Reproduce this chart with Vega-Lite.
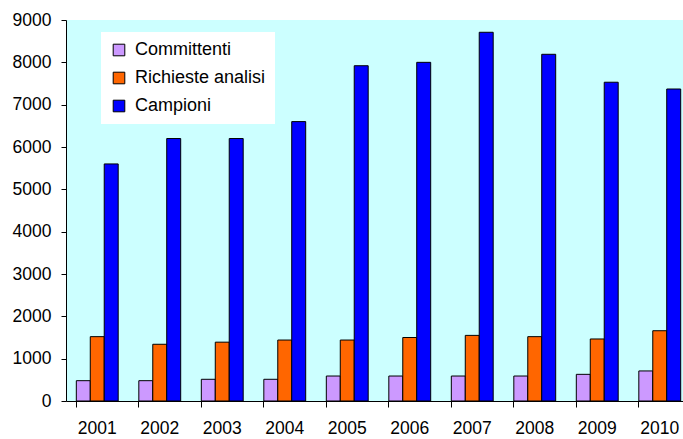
{
  "$schema": "https://vega.github.io/schema/vega-lite/v6.json",
  "width": 617,
  "height": 381,
  "autosize": {"type": "none"},
  "padding": {"left": 66, "top": 20, "right": 0, "bottom": 38},
  "background": "#FFFFFF",
  "config": {
    "view": {"fill": "#CCFFFF", "stroke": null},
    "font": "Liberation Sans",
    "axis": {"domainColor": "#000000", "tickColor": "#000000", "labelColor": "#000000", "labelFont": "Liberation Sans", "labelFontSize": 17.5, "grid": false, "title": null}
  },
  "data": {
    "values": [
      {"anno": "2001", "serie": "Committenti", "valore": 480},
      {"anno": "2001", "serie": "Richieste analisi", "valore": 1520},
      {"anno": "2001", "serie": "Campioni", "valore": 5600},
      {"anno": "2002", "serie": "Committenti", "valore": 480},
      {"anno": "2002", "serie": "Richieste analisi", "valore": 1340},
      {"anno": "2002", "serie": "Campioni", "valore": 6200},
      {"anno": "2003", "serie": "Committenti", "valore": 513},
      {"anno": "2003", "serie": "Richieste analisi", "valore": 1390},
      {"anno": "2003", "serie": "Campioni", "valore": 6200},
      {"anno": "2004", "serie": "Committenti", "valore": 513},
      {"anno": "2004", "serie": "Richieste analisi", "valore": 1440},
      {"anno": "2004", "serie": "Campioni", "valore": 6600},
      {"anno": "2005", "serie": "Committenti", "valore": 590},
      {"anno": "2005", "serie": "Richieste analisi", "valore": 1440},
      {"anno": "2005", "serie": "Campioni", "valore": 7920},
      {"anno": "2006", "serie": "Committenti", "valore": 590},
      {"anno": "2006", "serie": "Richieste analisi", "valore": 1500},
      {"anno": "2006", "serie": "Campioni", "valore": 8000},
      {"anno": "2007", "serie": "Committenti", "valore": 590},
      {"anno": "2007", "serie": "Richieste analisi", "valore": 1550},
      {"anno": "2007", "serie": "Campioni", "valore": 8710},
      {"anno": "2008", "serie": "Committenti", "valore": 590},
      {"anno": "2008", "serie": "Richieste analisi", "valore": 1520},
      {"anno": "2008", "serie": "Campioni", "valore": 8190},
      {"anno": "2009", "serie": "Committenti", "valore": 630},
      {"anno": "2009", "serie": "Richieste analisi", "valore": 1465},
      {"anno": "2009", "serie": "Campioni", "valore": 7530},
      {"anno": "2010", "serie": "Committenti", "valore": 710},
      {"anno": "2010", "serie": "Richieste analisi", "valore": 1660},
      {"anno": "2010", "serie": "Campioni", "valore": 7370}
    ]
  },
  "mark": {"type": "bar", "stroke": "#000000", "strokeWidth": 1},
  "encoding": {
    "x": {
      "field": "anno",
      "type": "nominal",
      "scale": {"range": [0, 625], "paddingInner": 0.33, "paddingOuter": 0.165},
      "axis": {"labelAngle": 0, "tickSize": 6, "labelPadding": 12, "bandPosition": 0, "domainWidth": 1}
    },
    "xOffset": {
      "field": "serie",
      "type": "nominal",
      "sort": ["Committenti", "Richieste analisi", "Campioni"],
      "scale": {"paddingInner": 0, "paddingOuter": 0}
    },
    "y": {
      "field": "valore",
      "type": "quantitative",
      "scale": {"domain": [0, 9000], "nice": false},
      "axis": {"values": [0, 1000, 2000, 3000, 4000, 5000, 6000, 7000, 8000, 9000], "format": "d", "tickSize": 5, "labelPadding": 10}
    },
    "color": {
      "field": "serie",
      "type": "nominal",
      "sort": ["Committenti", "Richieste analisi", "Campioni"],
      "scale": {"domain": ["Committenti", "Richieste analisi", "Campioni"], "range": ["#CC99FF", "#FF6600", "#0000FF"]},
      "legend": {
        "title": null,
        "orient": "none",
        "legendX": 35,
        "legendY": 12,
        "fillColor": "#FFFFFF",
        "padding": 9,
        "symbolType": "square",
        "symbolSize": 135,
        "symbolStrokeColor": "#000000",
        "symbolStrokeWidth": 1,
        "symbolOpacity": 1,
        "labelFontSize": 18,
        "labelFont": "Liberation Sans",
        "labelColor": "#000000",
        "labelOffset": 7,
        "rowPadding": 10
      }
    }
  }
}
